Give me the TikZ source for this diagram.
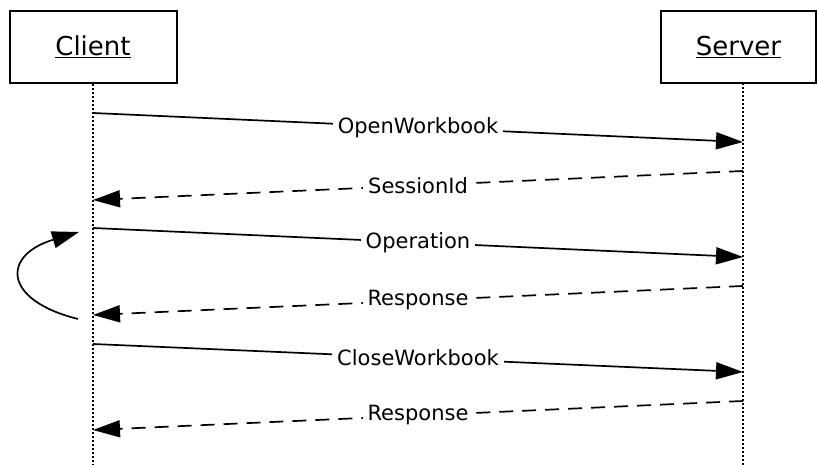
\documentclass[tikz,border=0pt]{standalone}
\usepackage{fontspec}
\setmainfont{DejaVu Sans}
\usetikzlibrary{arrows.meta}
\begin{document}
\begin{tikzpicture}[x=1pt,y=-1pt,line width=1.7pt,
    actor/.style={draw,line width=2pt,minimum width=167pt,minimum height=72pt,font=\fontsize{26}{30}\selectfont},
    life/.style={line width=1.7pt,dash pattern=on 2pt off 2pt},
    call/.style={-{Triangle[length=27pt,width=17pt]}},
    reply/.style={call,dash pattern=on 14pt off 9pt},
    lbl/.style={fill=white,inner xsep=5pt,inner ysep=2pt,font=\fontsize{21}{25}\selectfont}]
    \useasboundingbox (0,0) rectangle (817,465);

    \node[actor] (C) at (93,47) {\underline{Client}};
    \node[actor,minimum width=155pt] (S) at (738.5,47) {\underline{Server}};

    \coordinate (Cend) at (93,465);
    \coordinate (Send) at (743,465);
    \draw[life] (C.south) -- (Cend);
    \draw[life] (743,83) -- (Send);

    \coordinate (C1) at (93,113);
    \coordinate (S1) at (743,142);
    \coordinate (S2) at (743,171);
    \coordinate (C2) at (93,200);
    \coordinate (C3) at (93,228);
    \coordinate (S3) at (743,257);
    \coordinate (S4) at (743,286);
    \coordinate (C4) at (93,315);
    \coordinate (C5) at (93,344);
    \coordinate (S5) at (743,372);
    \coordinate (S6) at (743,401);
    \coordinate (C6) at (93,430);

    \draw (C1) edge[call] node[lbl] {OpenWorkbook} (S1);
    \draw (S2) edge[reply] node[lbl] {SessionId} (C2);
    \draw (C3) edge[call] node[lbl] {Operation} (S3);
    \draw (S4) edge[reply] node[lbl] {Response} (C4);
    \draw (C5) edge[call] node[lbl] {CloseWorkbook} (S5);
    \draw (S6) edge[reply] node[lbl] {Response} (C6);

    % loop back
    \coordinate (L1) at (78,319);
    \coordinate (L2) at (79,232);
    \draw[-{Triangle[length=27pt,width=17pt]}] (L1) .. controls (2,300) and (2,255) .. (L2);
\end{tikzpicture}
\end{document}
